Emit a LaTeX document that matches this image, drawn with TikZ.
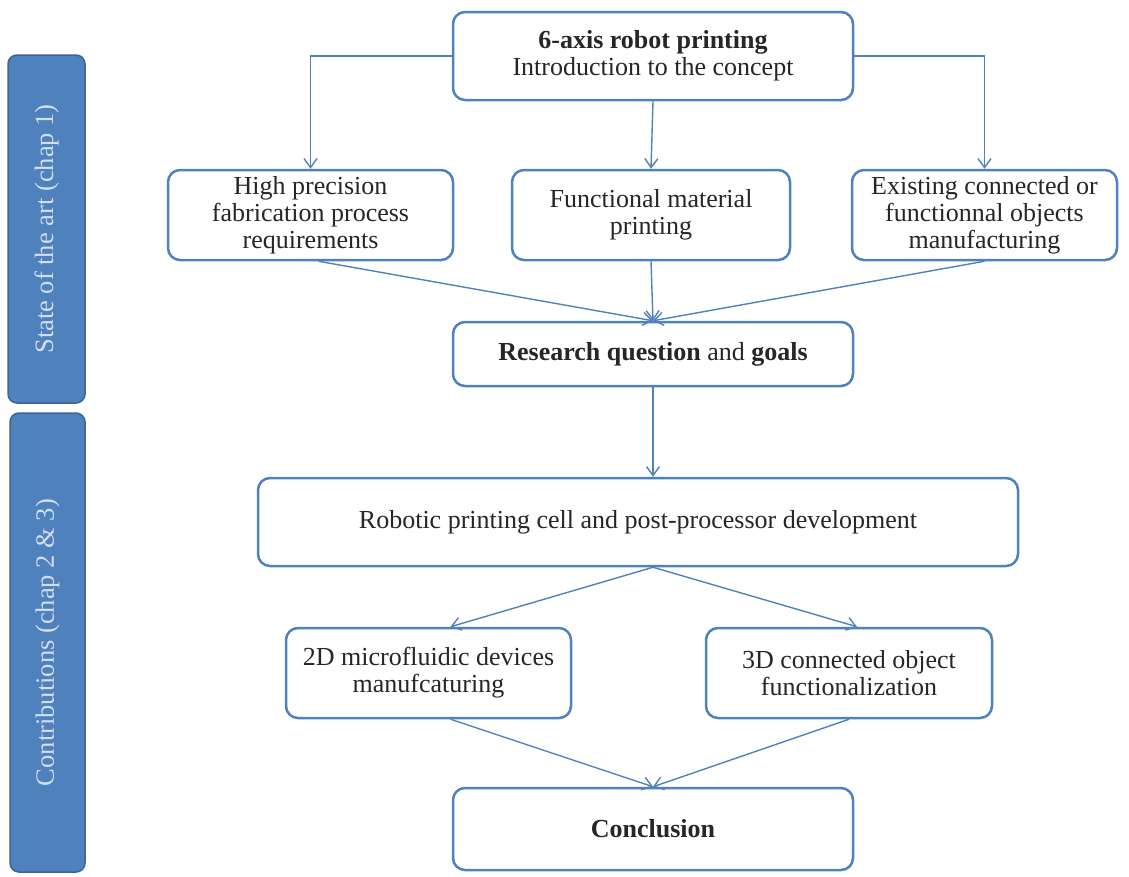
\documentclass[tikz,border=0pt]{standalone}
\usepackage{fontspec}
\setmainfont{Liberation Serif}
\usetikzlibrary{arrows.meta}
\definecolor{bblue}{HTML}{4F81BD}
\definecolor{bdark}{HTML}{3A6594}
\definecolor{btext}{HTML}{D0DEEF}
\definecolor{ttext}{HTML}{262626}
\begin{document}
\begin{tikzpicture}[x=1pt,y=-1pt,
  box/.style={draw=bblue,line width=2.5pt,rounded corners=12pt,fill=white,align=center,
    text=ttext,font=\fontsize{26}{27}\selectfont,inner sep=0pt},
  bar/.style={draw=bdark,line width=1.5pt,fill=bblue,rounded corners=9pt,rotate=90,
    text=btext,font=\fontsize{26.5}{28}\selectfont,inner sep=0pt},
  arr/.style={draw=bblue,line width=1.4pt,-{Straight Barb[length=9pt,width=13pt,line width=1.4pt]}}]
\useasboundingbox (0,0) rectangle (1129,876);
% side bars
\node[bar,minimum width=348pt,minimum height=77pt] (sota) at (46.5,229) {State of the art (chap 1)};
\node[bar,minimum width=459pt,minimum height=75pt] (contr) at (47.5,642.5) {Contributions (chap 2 \& 3)};
% boxes
\node[box,minimum width=400pt,minimum height=88pt] (top) at (653,56) {\textbf{6-axis robot printing}\\Introduction to the concept};
\node[box,minimum width=285pt,minimum height=90pt] (hp) at (310.5,215) {High precision\\fabrication process\\requirements};
\node[box,minimum width=278pt,minimum height=90pt] (fm) at (651,215) {Functional material\\printing};
\node[box,minimum width=265pt,minimum height=90pt] (ex) at (984.5,215) {Existing connected or\\functionnal objects\\manufacturing};
\node[box,minimum width=400pt,minimum height=64pt] (res) at (653,354) {\textbf{Research question} and \textbf{goals}};
\node[box,minimum width=760pt,minimum height=88pt] (rob) at (638,522) {Robotic printing cell and post-processor development};
\node[box,minimum width=285pt,minimum height=90pt] (d2) at (428.5,673) {2D microfluidic devices\\manufcaturing};
\node[box,minimum width=286pt,minimum height=90pt] (d3) at (849,673) {3D connected object\\functionalization};
\node[box,minimum width=400pt,minimum height=82pt] (conc) at (653,829) {\textbf{Conclusion}};
% connectors
\draw[arr] (top.west) -| (hp.north);
\draw[arr] (top.south) -- (fm.north);
\draw[arr] (top.east) -| (ex.north);
\draw[arr] ([xshift=8pt]hp.south) -- (res.north);
\draw[arr] (fm.south) -- (res.north);
\draw[arr] (ex.south) -- (res.north);
\draw[arr] (res.south) -- ([xshift=15pt]rob.north);
\draw[arr] ([xshift=15pt]rob.south) -- ([xshift=22pt]d2.north);
\draw[arr] ([xshift=15pt]rob.south) -- ([xshift=8pt]d3.north);
\draw[arr] ([xshift=22pt]d2.south) -- (conc.north);
\draw[arr] (d3.south) -- (conc.north);
\end{tikzpicture}
\end{document}
